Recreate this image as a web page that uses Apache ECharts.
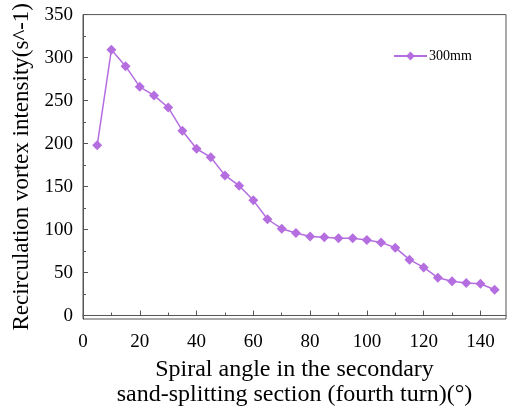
<!DOCTYPE html>
<html><head><meta charset="utf-8">
<script src="https://cdn.jsdelivr.net/npm/echarts@6/dist/echarts.min.js"></script>
<style>html,body{margin:0;padding:0;background:#fff}#c{width:507px;height:416px}</style>
</head><body><div id="c"></div>
<script>
const angles = [5,10,15,20,25,30,35,40,45,50,55,60,65,70,75,80,85,90,95,100,105,110,115,120,125,130,135,140,145];
const vortex300 = [198,309,290,266,256,242,215,194,184,163,151,134,112,101,96,92,91,90,90,88,85,79,65,56,44,40,38,37,30];
const xMajorTicks = [0,20,40,60,80,100,120,140];
const xMinorTicks = [10,30,50,70,90,110,130];
const yMajorTicks = [0,50,100,150,200,250,300,350];
const yMinorTicks = [25,75,125,175,225,275,325];
const seriesName = '300mm';
const xTitle = 'Spiral angle in the secondary\nsand-splitting section (fourth turn)(°)';
const yTitle = 'Recirculation vortex intensity(s^-1)';

const font = 'Liberation Serif';
const axisColor = '#555';
const purple = '#b46ee0';
const chart = echarts.init(document.getElementById('c'));
chart.setOption({
  animation: false,
  grid: {left: 83, right: 1, top: 14, bottom: 97, show: true, borderColor: axisColor, borderWidth: 1},
  xAxis: [{
    type: 'value', min: 0, max: 149,
    axisLine: {lineStyle: {color: axisColor}},
    axisTick: {inside: true, length: 5, customValues: xMajorTicks, lineStyle: {color: axisColor}},
    axisLabel: {customValues: xMajorTicks, fontFamily: font, fontSize: 19, color: '#000', margin: 14},
    splitLine: {show: false},
    name: xTitle, nameLocation: 'middle', nameGap: 31,
    nameTextStyle: {fontFamily: font, fontSize: 24, color: '#000', lineHeight: 25}
  }, {
    type: 'value', min: 0, max: 149, position: 'bottom',
    axisLine: {show: false},
    axisTick: {inside: true, length: 3, customValues: xMinorTicks, lineStyle: {color: axisColor}},
    axisLabel: {show: false}, splitLine: {show: false}
  }],
  yAxis: [{
    type: 'value', min: -4, max: 350,
    axisLine: {lineStyle: {color: axisColor}},
    axisTick: {inside: true, length: 5, customValues: yMajorTicks, lineStyle: {color: axisColor}},
    axisLabel: {customValues: yMajorTicks, fontFamily: font, fontSize: 19, color: '#000', margin: 10},
    splitLine: {show: false},
    name: yTitle, nameLocation: 'middle', nameGap: 50,
    nameTextStyle: {fontFamily: font, fontSize: 23, color: '#000'}
  }, {
    type: 'value', min: -4, max: 350, position: 'left',
    axisLine: {show: false},
    axisTick: {inside: true, length: 3, customValues: yMinorTicks, lineStyle: {color: axisColor}},
    axisLabel: {show: false}, splitLine: {show: false}
  }],
  legend: {
    data: [seriesName], left: 388, top: 44, itemWidth: 33, itemHeight: 11, itemGap: 4,
    textStyle: {fontFamily: font, fontSize: 14, color: '#000', padding: [0,0,0,-3]}
  },
  series: [{
    name: seriesName, type: 'line',
    data: angles.map((a, i) => [a, vortex300[i]]),
    symbol: 'diamond', symbolSize: 10,
    lineStyle: {color: purple, width: 1.5},
    itemStyle: {color: purple}
  }]
});
</script></body></html>
